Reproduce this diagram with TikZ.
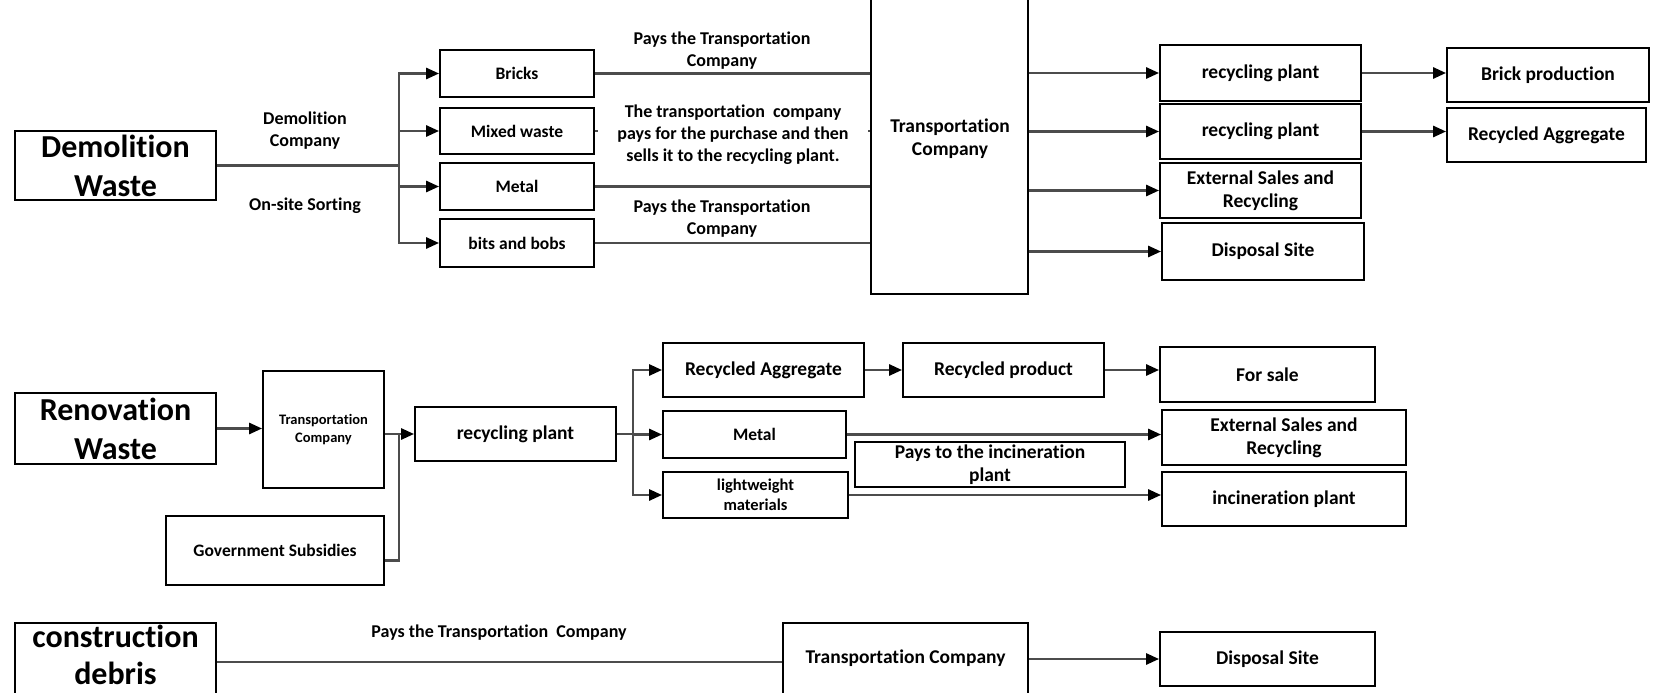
\documentclass[tikz,border=0pt]{standalone}
\usepackage{fontspec}
\setmainfont{Carlito}[Ligatures=NoCommon]
\usetikzlibrary{arrows.meta}
\tikzset{
  box/.style={draw=black, line width=1.8pt, fill=white, inner sep=2pt, align=center,
    font=\bfseries\fontsize{19.5}{23}\selectfont},
  smallbox/.style={box, font=\bfseries\fontsize{17.5}{21}\selectfont},
  tinybox/.style={box, font=\bfseries\fontsize{14.5}{18}\selectfont},
  bigbox/.style={box, font=\bfseries\fontsize{32}{39}\selectfont},
  lbl/.style={align=center, inner sep=1pt, font=\bfseries\fontsize{18}{22}\selectfont},
  boxtext/.style={align=center, inner sep=0pt, font=\bfseries\fontsize{19.5}{23}\selectfont},
  conn/.style={draw=black!70, line width=2.7pt},
  arr/.style={conn, -{Triangle[length=13pt,width=11pt,color=black]}},
}
\begin{document}
\begin{tikzpicture}[x=1pt, y=-1pt]
\clip (0,0) rectangle (1654,693);
\fill[white] (0,0) rectangle (1654,693);

% ---------------- demolition waste ----------------
\node[bigbox, minimum width=201pt, minimum height=69pt] (dw) at (115.5,165.5) {Demolition\\Waste};
\node[smallbox, minimum width=154pt, minimum height=47pt] (bricks) at (517,73.5) {Bricks};
\node[smallbox, minimum width=154pt, minimum height=46pt] (mixed) at (517,131) {Mixed waste};
\node[smallbox, minimum width=154pt, minimum height=47pt] (metalA) at (517,186.5) {Metal};
\node[smallbox, minimum width=154pt, minimum height=48pt] (bits) at (517,243) {bits and bobs};
\node[box, minimum width=157pt, minimum height=297pt] (tcA) at (949.5,145.5) {};
\node[boxtext] (tcAtext) at (950,139) {Transportation\\Company};
\node[box, minimum width=201pt, minimum height=56pt] (rpA) at (1260.5,73) {recycling plant};
\node[box, minimum width=201pt, minimum height=55pt] (rpB) at (1260.5,131.5) {recycling plant};
\node[box, minimum width=201pt, minimum height=55pt] (esrA) at (1260.5,190.5) {External Sales and\\Recycling};
\node[box, minimum width=202pt, minimum height=57pt] (dsA) at (1263,251.5) {Disposal Site};
\node[box, minimum width=202pt, minimum height=54pt] (brickprod) at (1548,75) {Brick production};
\node[box, minimum width=199pt, minimum height=54pt] (raA) at (1546.5,135) {Recycled Aggregate};

\coordinate (jA) at (399,165.5);
\draw[conn] (dw.east) -- (jA);
\draw[arr] (jA) |- (bricks.west);
\draw[arr] (jA) |- (mixed.west);
\draw[arr] (jA) |- (metalA.west);
\draw[arr] (jA) |- (bits.west);

\draw[conn] (bricks.east) -- (bricks.east -| tcA.west);
\draw[conn] (mixed.east) -- (mixed.east -| tcA.west);
\draw[conn] (metalA.east) -- (metalA.east -| tcA.west);
\draw[conn] (bits.east) -- (bits.east -| tcA.west);

\draw[arr] (tcA.east |- rpA.west) -- (rpA.west);
\draw[arr] (tcA.east |- rpB.west) -- (rpB.west);
\draw[arr] (tcA.east |- esrA.west) -- (esrA.west);
\draw[arr] (tcA.east |- dsA.west) -- (dsA.west);
\draw[arr] (rpA.east) -- (rpA.east -| brickprod.west);
\draw[arr] (rpB.east) -- (rpB.east -| raA.west);

\node[lbl] (lblDemCo) at (305,131) {Demolition\\Company};
\node[lbl] (lblSort) at (305,206) {On-site Sorting};
\node[lbl] (lblPayA) at (722,51) {Pays the Transportation\\Company};
\node[lbl, fill=white, minimum width=270pt] (lblBuy) at (733,135)
  {The transportation~ company\\pays for the purchase and then\\sells it to the recycling plant.};
\node[lbl] (lblPayB) at (722,219) {Pays the Transportation\\Company};

% ---------------- renovation waste ----------------
\node[bigbox, minimum width=201pt, minimum height=71pt] (rw) at (115.5,428.5) {Renovation\\Waste};
\node[tinybox, minimum width=121pt, minimum height=117pt] (tcB) at (323.5,429.5) {Transportation\\Company};
\node[box, minimum width=201pt, minimum height=54pt] (rpC) at (515.5,434) {recycling plant};
\node[smallbox, minimum width=218pt, minimum height=69pt] (gov) at (275,550.5) {Government Subsidies};
\node[box, minimum width=201pt, minimum height=54pt] (raB) at (763.5,370) {Recycled Aggregate};
\node[smallbox, minimum width=183pt, minimum height=47pt] (metalB) at (754.5,434.5) {Metal};
\node[smallbox, minimum width=185pt, minimum height=46pt, font=\bfseries\fontsize{16.5}{20}\selectfont] (light) at (755.5,495) {lightweight\\materials};
\node[box, minimum width=201pt, minimum height=54pt] (rprod) at (1003.5,370) {Recycled product};
\node[box, minimum width=215pt, minimum height=55pt] (sale) at (1267.5,374.5) {For sale};
\node[box, minimum width=244pt, minimum height=55pt] (esrB) at (1284,437.5) {External Sales and\\Recycling};
\node[box, minimum width=270pt, minimum height=45pt] (payinc) at (990,464.5) {Pays to the incineration\\plant};
\node[box, minimum width=244pt, minimum height=54pt] (incin) at (1284,499) {incineration plant};

\coordinate (jB) at (399,434);
\coordinate (jC) at (633,434);
\draw[arr] (rw.east) -- (rw.east -| tcB.west);
\draw[conn] ([yshift=-10pt]gov.east) -| (jB);
\draw[arr] (tcB.east |- rpC.west) -- (rpC.west);
\draw[conn] (rpC.east) -- (jC);
\draw[arr] (jC) |- (raB.west);
\draw[arr] (jC) |- (metalB.west);
\draw[arr] (jC) |- (light.west);
\draw[arr] (raB.east) -- (raB.east -| rprod.west);
\draw[arr] (rprod.east) -- (rprod.east -| sale.west);
\draw[arr] (metalB.east) -- (metalB.east -| esrB.west);
\draw[arr] (light.east) -- (light.east -| incin.west);

% ---------------- construction debris ----------------
\node[box, minimum width=201pt, minimum height=78pt] (cd) at (115.5,662) {};
\node[boxtext, font=\bfseries\fontsize{32}{37}\selectfont] (cdtext) at (115.5,655) {construction\\debris};
\node[box, minimum width=245pt, minimum height=78pt] (tcC) at (905.5,662) {};
\node[boxtext] (tcCtext) at (905.5,658) {Transportation Company};
\node[box, minimum width=215pt, minimum height=54pt] (dsB) at (1267.5,659) {Disposal Site};
\draw[conn] (cd.east) -- (cd.east -| tcC.west);
\draw[arr] (tcC.east |- dsB.west) -- (dsB.west);
\node[lbl] (lblPayC) at (499,633) {Pays the Transportation~ Company};
\end{tikzpicture}
\end{document}
